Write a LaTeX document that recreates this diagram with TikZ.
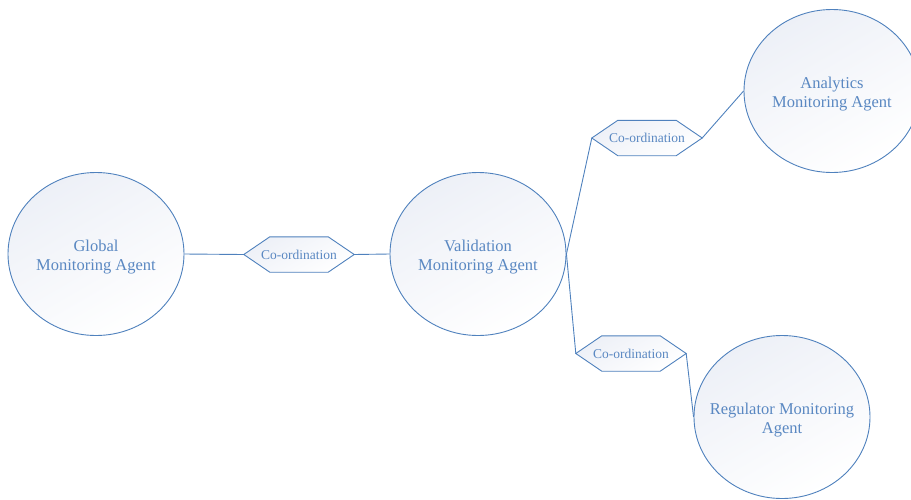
\documentclass[tikz,border=0pt]{standalone}
\usepackage{fontspec}
\setmainfont{Liberation Serif}
\usetikzlibrary{shapes.geometric,backgrounds}
\definecolor{lineblue}{HTML}{4F81BD}
\definecolor{textblue}{HTML}{5A88C2}
\definecolor{fillgray}{HTML}{EDF0F7}
\tikzset{
  agent/.style={ellipse, draw=lineblue, line width=0.9pt, inner sep=0pt,
    minimum width=176pt, minimum height=163pt,
    top color=fillgray, bottom color=white, shading angle=30},
  agenttext/.style={text=textblue, align=center, inner sep=0pt, yshift=-3pt,
    font=\fontsize{16.5}{19.5}\selectfont},
  coordbox/.style={rectangle, inner sep=0pt,
    minimum width=110pt, minimum height=35pt,
    text=textblue, font=\fontsize{13.5}{16}\selectfont},
  hexfill/.style={draw=lineblue, line width=0.9pt,
    top color=fillgray, bottom color=white, shading angle=30},
  link/.style={draw=lineblue, line width=0.9pt}
}
\newcommand\hexaround[1]{%
  \path[hexfill] (#1.west) -- ([xshift=26pt]#1.north west) -- ([xshift=-26pt]#1.north east)
    -- (#1.east) -- ([xshift=-26pt]#1.south east) -- ([xshift=26pt]#1.south west) -- cycle;}
\begin{document}
\begin{tikzpicture}[x=1pt,y=-1pt]
\useasboundingbox (0,0) rectangle (911,499);
\clip (0,0) rectangle (911,499);
\node[agent] (glob) at (96,254) {};
\node[agenttext] (globt) at (glob.center) {Global\\Monitoring Agent};
\node[agent] (val) at (478,254) {};
\node[agenttext] (valt) at (val.center) {Validation\\Monitoring Agent};
\node[agent] (ana) at (832,91) {};
\node[agenttext] (anat) at (ana.center) {Analytics\\Monitoring Agent};
\node[agent] (reg) at (782,417) {};
\node[agenttext] (regt) at (reg.center) {Regulator Monitoring\\Agent};
\node[coordbox] (c1) at (299,254.5) {Co-ordination};
\node[coordbox] (c2) at (647,138) {Co-ordination};
\node[coordbox] (c3) at (631,353.5) {Co-ordination};
\begin{scope}[on background layer]
\hexaround{c1}
\hexaround{c2}
\hexaround{c3}
\end{scope}
\draw[link] (glob.east) -- (c1.west);
\draw[link] (c1.east) -- (val.west);
\draw[link] (val.east) -- (c2.west);
\draw[link] (c2.east) -- (ana.west);
\draw[link] (val.east) -- (c3.west);
\draw[link] (c3.east) -- (reg.west);
\end{tikzpicture}
\end{document}
